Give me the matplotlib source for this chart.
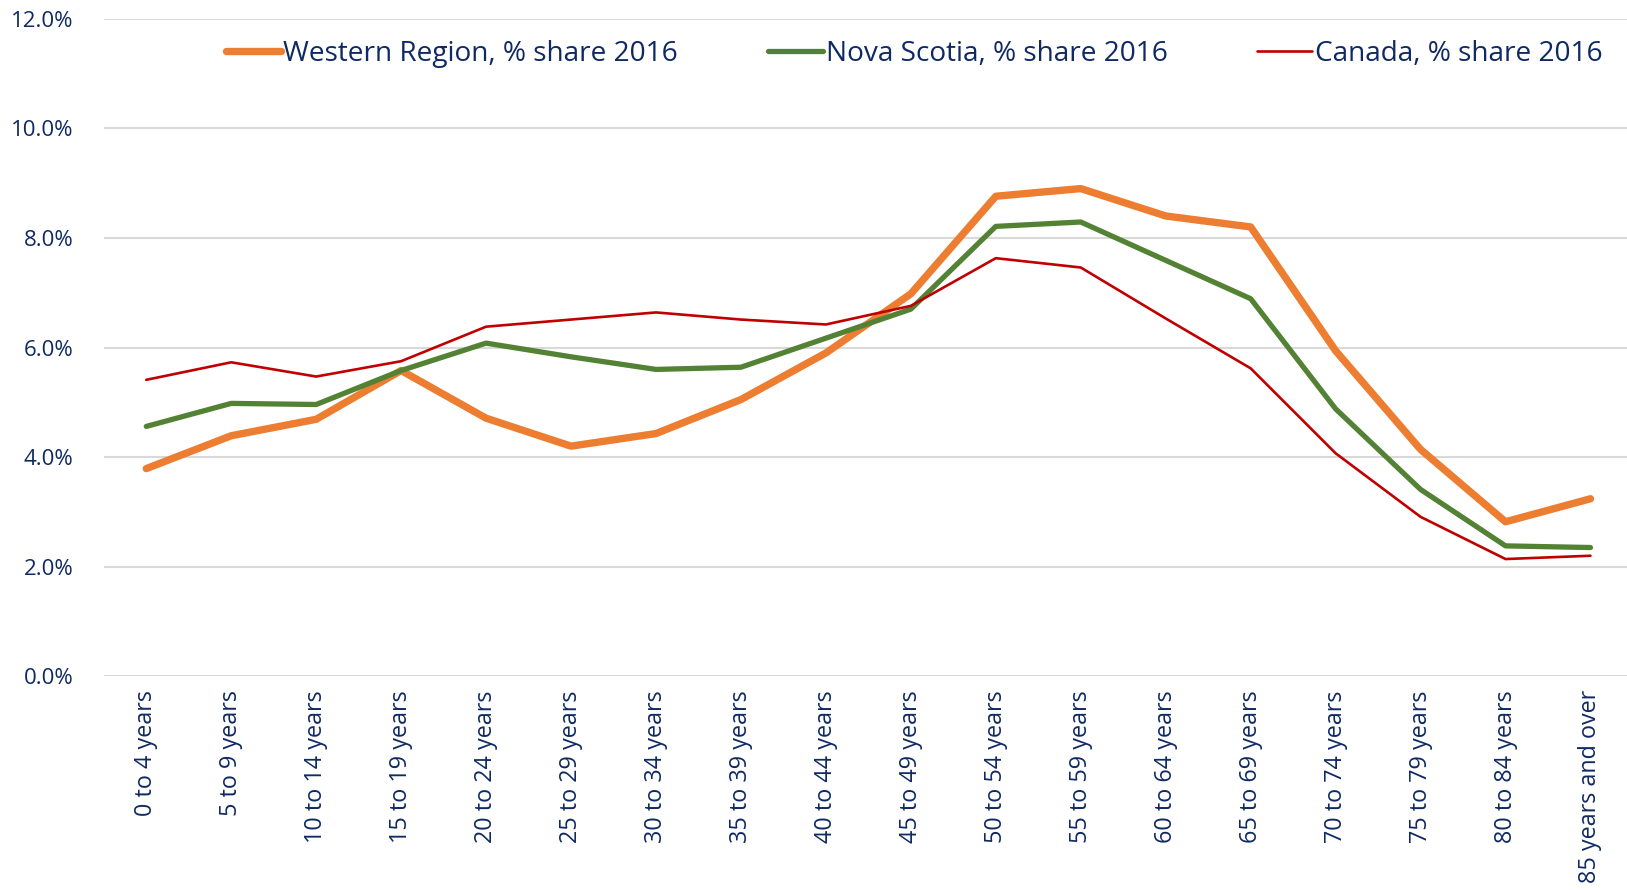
import matplotlib
matplotlib.use("Agg")
import matplotlib.pyplot as plt
from matplotlib.ticker import FuncFormatter

categories = ["0 to 4 years", "5 to 9 years", "10 to 14 years", "15 to 19 years",
              "20 to 24 years", "25 to 29 years", "30 to 34 years", "35 to 39 years",
              "40 to 44 years", "45 to 49 years", "50 to 54 years", "55 to 59 years",
              "60 to 64 years", "65 to 69 years", "70 to 74 years", "75 to 79 years",
              "80 to 84 years", "85 years and over"]

western = [3.79, 4.39, 4.69, 5.58, 4.71, 4.20, 4.43, 5.05, 5.90, 6.98,
           8.76, 8.90, 8.40, 8.20, 5.94, 4.14, 2.82, 3.24]
nova_scotia = [4.56, 4.98, 4.96, 5.58, 6.08, 5.83, 5.60, 5.64, 6.17, 6.70,
               8.21, 8.29, 7.59, 6.89, 4.88, 3.41, 2.38, 2.35]
canada = [5.41, 5.73, 5.47, 5.75, 6.38, 6.51, 6.64, 6.51, 6.42, 6.76,
          7.63, 7.46, 6.53, 5.62, 4.07, 2.91, 2.14, 2.20]

series_labels = ["Western Region, % share 2016", "Nova Scotia, % share 2016",
                 "Canada, % share 2016"]

text_color = "#0F2A63"
plt.rcParams['font.family'] = ['Open Sans', 'DejaVu Sans']

fig = plt.figure(figsize=(16.27, 8.90), dpi=100)
ax = fig.add_axes([0.0638, 0.2401, 0.9362, 0.7389])

x = list(range(len(categories)))
ax.plot(x, western, color="#ED7D31", lw=5.3, solid_capstyle="round",
        solid_joinstyle="round", label=series_labels[0], zorder=3)
ax.plot(x, nova_scotia, color="#548235", lw=3.8, solid_capstyle="round",
        solid_joinstyle="round", label=series_labels[1], zorder=4)
ax.plot(x, canada, color="#C00000", lw=1.9, solid_capstyle="round",
        solid_joinstyle="round", label=series_labels[2], zorder=5)

ax.set_ylim(0, 12)
ax.set_yticks([0, 2, 4, 6, 8, 10, 12])
ax.yaxis.set_major_formatter(FuncFormatter(lambda v, p: f"{v:.1f}%"))
ax.set_xlim(-0.5, 17.43)
ax.set_xticks(x)
ax.set_xticklabels(categories, rotation=90)
ax.grid(axis="y", color="#D9D9D9", lw=1.5)
ax.set_axisbelow(True)
for s in ax.spines.values():
    s.set_visible(False)
ax.tick_params(axis="y", length=0, labelsize=16, colors=text_color, pad=22)
ax.tick_params(axis="x", length=0, labelsize=16.8, colors=text_color, pad=10)

leg = ax.legend(loc="center", bbox_to_anchor=(0.532, 0.946), ncol=3,
                frameon=False, fontsize=20.2, handlelength=1.95,
                handletextpad=0.1, columnspacing=3.2)
for t in leg.get_texts():
    t.set_color(text_color)

fig.savefig("out.png", dpi=100)
